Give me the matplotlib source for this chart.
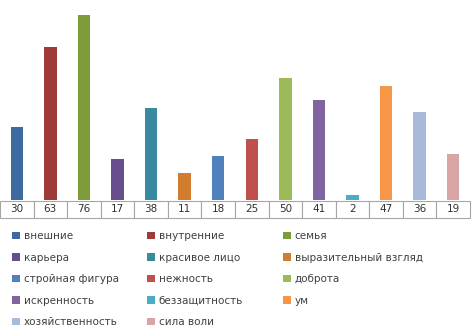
import matplotlib
matplotlib.use("Agg")
import matplotlib.pyplot as plt

categories = ["внешние", "внутренние", "семья", "карьера", "красивое лицо",
              "выразительный взгляд", "стройная фигура", "нежность", "доброта",
              "искренность", "беззащитность", "ум", "хозяйственность", "сила воли"]
values = [30, 63, 76, 17, 38, 11, 18, 25, 50, 41, 2, 47, 36, 19]
colors = ["#3C6AA1", "#9E3A38", "#7F9C3D", "#674E8D", "#378AA0", "#D27C2E",
          "#4F81BD", "#C0504D", "#9BBB59", "#8064A2", "#4BACC6", "#F79646",
          "#A8BAD9", "#D9A5A4"]

fig = plt.figure(figsize=(4.73, 3.31), dpi=100)
W, H = 473, 331
ax = fig.add_axes([0 / W, (H - 200) / H, 470 / W, 194.7 / H])

handles = []
for i, (c, v, col) in enumerate(zip(categories, values, colors)):
    b = ax.bar(i, v, width=0.37, color=col, edgecolor="none", label=c)
    handles.append(b)

ax.set_xlim(-0.5, len(values) - 0.5)
ax.set_ylim(0, 80)
ax.set_xticks([])
ax.set_yticks([])
for s in ax.spines.values():
    s.set_visible(False)

th = 17 / 194.7
tbl = ax.table(cellText=[[str(v) for v in values]], cellLoc="center",
               bbox=[0, -th - 1 / 194.7, 1, th])
tbl.auto_set_font_size(False)
tbl.set_fontsize(7.5)
for (r, c), cell in tbl.get_celld().items():
    cell.set_edgecolor("#A6A6A6")
    cell.set_linewidth(0.8)
    cell.get_text().set_color("#303030")

# legend: three columns, row-wise order
col_x = [7, 142, 278]
for k in range(3):
    idx = list(range(k, len(categories), 3))
    fig.legend([handles[i] for i in idx], [categories[i] for i in idx],
               loc="upper left", bbox_to_anchor=(col_x[k] / W, 1 - 226 / H),
               frameon=False, fontsize=7.5, handlelength=0.7, handleheight=0.7,
               handletextpad=0.4, labelspacing=1.1, borderpad=0,
               labelcolor="#404040")

fig.savefig("out.png", dpi=100)
